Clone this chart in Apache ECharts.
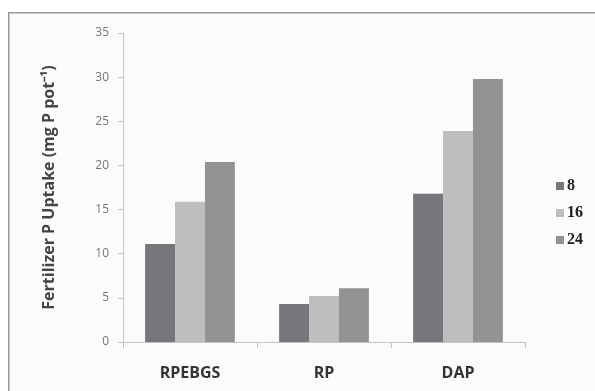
<!DOCTYPE html>
<html><head><meta charset="utf-8">
<script src="https://cdn.jsdelivr.net/npm/echarts@6/dist/echarts.min.js"></script>
<style>html,body{margin:0;padding:0;background:#fff}#c{width:595px;height:391px}</style>
</head><body><div id="c"></div>
<script>
const categories = ['RPEBGS', 'RP', 'DAP'];
const seriesNames = ['8', '16', '24'];
const s8 = [11.1, 4.3, 16.8];
const s16 = [15.9, 5.2, 23.9];
const s24 = [20.4, 6.1, 29.8];
const yTicks = [0, 5, 10, 15, 20, 25, 30, 35];
const colors = ['#76777b', '#bdbec0', '#929395'];

const chart = echarts.init(document.getElementById('c'));
const values = [s8, s16, s24];
chart.setOption({
  animation: false,
  backgroundColor: '#ffffff',
  graphic: [{
    type: 'rect', left: 8, top: 12, z: -10, silent: true,
    shape: { width: 600, height: 400 },
    style: { fill: '#fbfbfb', stroke: '#9a9a9a', lineWidth: 1.5 }
  }],
  grid: { left: 123, right: 70, top: 33, bottom: 49 },
  legend: {
    orient: 'vertical', left: 551, top: 173,
    data: seriesNames,
    itemWidth: 8, itemHeight: 8, itemGap: 11, icon: 'rect',
    textStyle: { fontFamily: 'Liberation Serif', fontWeight: 'bold', fontSize: 16, color: '#222', padding: [0, 0, 0, -2] }
  },
  xAxis: {
    type: 'category', data: categories,
    axisLine: { lineStyle: { color: '#c4c4c4' } },
    axisTick: { show: true, length: 6, lineStyle: { color: '#c4c4c4' } },
    axisLabel: { margin: 23, fontFamily: 'Open Sans', fontWeight: 'bold', fontSize: 16, color: '#333' }
  },
  yAxis: {
    type: 'value', min: 0, max: 35, interval: 5,
    name: 'Fertilizer P Uptake (mg P pot⁻¹)',
    nameLocation: 'middle', nameGap: 66, nameRotate: 90,
    nameTextStyle: { fontFamily: 'Open Sans', fontWeight: 'bold', fontSize: 16, color: '#444' },
    axisLine: { show: true, lineStyle: { color: '#c4c4c4' } },
    axisTick: { show: true, length: 5, lineStyle: { color: '#c4c4c4' } },
    splitLine: { show: false },
    axisLabel: { margin: 14, fontFamily: 'Open Sans', fontSize: 12, color: '#777',
      formatter: v => yTicks.includes(v) ? String(v) : '' }
  },
  series: seriesNames.map((n, i) => ({
    name: n, type: 'bar', data: values[i],
    barGap: '0%', barCategoryGap: '33%',
    itemStyle: { color: colors[i] }
  }))
});
</script></body></html>
